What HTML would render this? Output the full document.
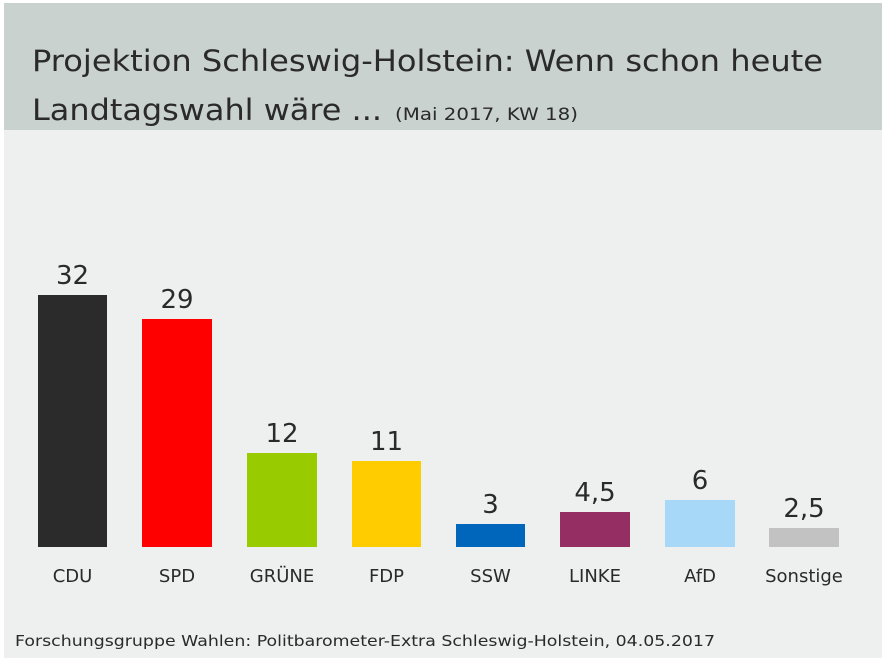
<!DOCTYPE html>
<html><head><meta charset="utf-8"><style>
html,body{margin:0;padding:0;background:#fff;}
svg{display:block;}
text{font-family:"DejaVu Sans","Liberation Sans",sans-serif;fill:#2a2a2a;}
</style></head><body>
<svg width="886" height="660" viewBox="0 0 886 660" xmlns="http://www.w3.org/2000/svg">
<rect x="0" y="0" width="886" height="660" fill="#fff"/>
<rect x="4" y="3" width="878" height="655" fill="#eeefef"/>
<rect x="4" y="3" width="878" height="127" fill="#c9d2cf"/>
<text x="32" y="71" font-size="29" textLength="791" lengthAdjust="spacingAndGlyphs">Projektion Schleswig-Holstein: Wenn schon heute</text>
<text x="32" y="120" font-size="29" textLength="350" lengthAdjust="spacingAndGlyphs">Landtagswahl wäre ...</text>
<text x="395" y="120" font-size="17" textLength="183" lengthAdjust="spacingAndGlyphs">(Mai 2017, KW 18)</text>
<g>
<rect x="38" y="295" width="69" height="252" fill="#2b2b2b"/>
<rect x="142" y="319" width="70" height="228" fill="#fe0000"/>
<rect x="247" y="453" width="70" height="94" fill="#99cc00"/>
<rect x="352" y="461" width="69" height="86" fill="#ffcc00"/>
<rect x="456" y="524" width="69" height="23" fill="#0066bb"/>
<rect x="560" y="512" width="70" height="35" fill="#952e63"/>
<rect x="665" y="500" width="70" height="47" fill="#a8d8f8"/>
<rect x="769" y="528" width="70" height="19" fill="#c2c2c2"/>
</g>
<g font-size="26" text-anchor="middle">
<text x="72.5" y="284">32</text>
<text x="177" y="308">29</text>
<text x="282" y="442">12</text>
<text x="386.5" y="450">11</text>
<text x="490.5" y="513">3</text>
<text x="595" y="501">4,5</text>
<text x="700" y="489">6</text>
<text x="804" y="517">2,5</text>
</g>
<g font-size="18" text-anchor="middle" fill="#333">
<text x="72.5" y="582">CDU</text>
<text x="177" y="582">SPD</text>
<text x="282" y="582">GRÜNE</text>
<text x="386.5" y="582">FDP</text>
<text x="490.5" y="582">SSW</text>
<text x="595" y="582">LINKE</text>
<text x="700" y="582">AfD</text>
<text x="804" y="582">Sonstige</text>
</g>
<text x="15" y="646" font-size="15" textLength="700" lengthAdjust="spacingAndGlyphs">Forschungsgruppe Wahlen: Politbarometer-Extra Schleswig-Holstein, 04.05.2017</text>
</svg>
</body></html>
